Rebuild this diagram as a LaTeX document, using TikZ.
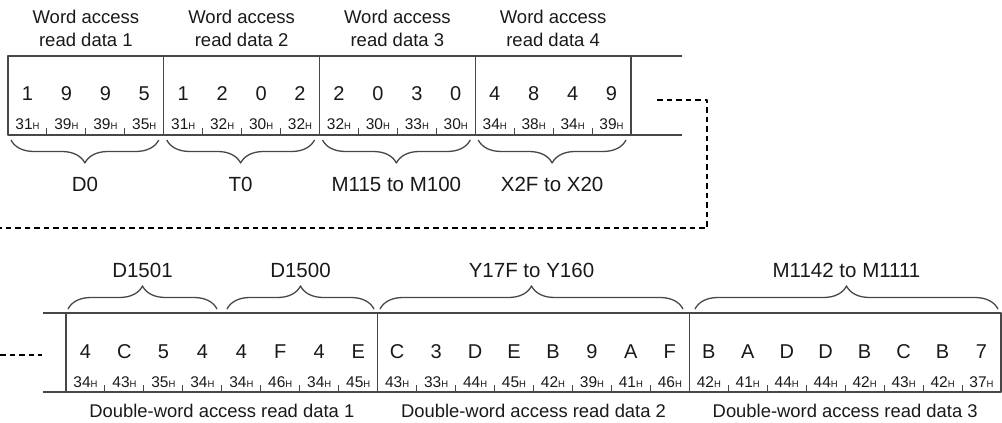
\documentclass[tikz,border=0pt]{standalone}
\usepackage{fontspec}
\setmainfont{Liberation Sans}
\usetikzlibrary{positioning,calc,decorations.pathreplacing}

\newcommand{\hx}[1]{#1{\fontsize{9.5}{9.5}\selectfont H}}

\begin{document}
\begin{tikzpicture}[x=1pt, y=-1pt, line join=round,
    every node/.style={inner sep=0pt, outer sep=0pt, text=black!90},
    cell/.style={draw=black!72, line width=1.3pt, minimum height=79pt, anchor=north west},
    frame/.style={draw=black!72, line width=1.3pt},
    head/.style={font=\fontsize{18.5}{23}\selectfont, align=center},
    lbl/.style={font=\fontsize{20.5}{24}\selectfont},
    caption/.style={font=\fontsize{18.4}{22}\selectfont},
    digit/.style={font=\fontsize{20}{24}\selectfont},
    code/.style={font=\fontsize{15.5}{17}\selectfont},
    brc/.style={frame, decorate, decoration={brace, amplitude=23pt}},
    link/.style={line width=2.6pt, dash pattern=on 5.5pt off 4pt}]
  \useasboundingbox (0,0) rectangle (1002,423);

  % word access read data
  \node[cell, minimum width=155.75pt] (w1) at (8,56) {};
  \node[cell, minimum width=155.75pt, right=0pt of w1] (w2) {};
  \node[cell, minimum width=155.75pt, right=0pt of w2] (w3) {};
  \node[cell, minimum width=155.75pt, right=0pt of w3] (w4) {};
  \draw[frame] (w4.north east) -- ++(51,0) (w4.south east) -- ++(51,0);

  \foreach \i in {1,...,4}
    \node[head, above=9.5pt of w\i] (h\i) {Word access\\read data \i};

  \foreach \d/\h [count=\n from 0] in {1/31,9/39,9/39,5/35,1/31,2/32,0/30,2/32,
      2/32,0/30,3/33,0/30,4/34,8/38,4/34,9/39} {
    \node[digit] (td\n) at (27.47+38.9375*\n, 94) {\d};
    \node[code] (tc\n) at (27.47+38.9375*\n, 124) {\hx{\h}};
  }
  \foreach \n in {1,2,3,5,6,7,9,10,11,13,14,15}
    \draw[frame, line width=1pt] ($(w1.south west)+(38.9375*\n,0)$) -- ++(0,-7);

  \foreach \i/\t in {1/D0,2/T0,3/M115 to M100,4/X2F to X20} {
    \draw[brc] ($(w\i.south east)+(-5,5)$) -- ($(w\i.south west)+(3,5)$);
    \node[lbl] (a\i) at ($(w\i.south)+(-1,49)$) {\t};
  }

  % double-word access read data
  \node[cell, minimum width=311.67pt] (r1) at (66,313) {};
  \node[cell, minimum width=311.67pt, right=0pt of r1] (r2) {};
  \node[cell, minimum width=311.67pt, right=0pt of r2] (r3) {};
  \draw[frame] (r1.north west) -- ++(-23,0) (r1.south west) -- ++(-23,0);

  \foreach \d/\h [count=\n from 0] in {4/34,C/43,5/35,4/34,4/34,F/46,4/34,E/45,
      C/43,3/33,D/44,E/45,B/42,9/39,A/41,F/46,
      B/42,A/41,D/44,D/44,B/42,C/43,B/42,7/37} {
    \node[digit] (bd\n) at (85.48+38.958*\n, 352) {\d};
    \node[code] (bc\n) at (85.48+38.958*\n, 382) {\hx{\h}};
  }
  \foreach \n in {1,...,7,9,10,...,15,17,18,...,23}
    \draw[frame, line width=1pt] ($(r1.south west)+(38.958*\n,0)$) -- ++(0,-7);

  \foreach \a/\b/\t [count=\i] in {68/217/D1501,227/374/D1500,
      380/683/Y17F to Y160,695/998/M1142 to M1111} {
    \draw[brc] (\a,309) -- (\b,309);
    \node[lbl] (b\i) at ({(\a+\b)/2}, 270.5) {\t};
  }

  \foreach \i in {1,2,3}
    \node[caption] (c\i) at ($(r\i.south)+(0,19)$) {Double-word access read data \i};

  % continuation
  \coordinate (wrapA) at (657,100);
  \coordinate (wrapB) at (0,228);
  \coordinate (wrapC) at (0,355);
  \coordinate (wrapD) at (42,355);
  \draw[link] (wrapA) -| (707,228) -- (wrapB);
  \draw[link] (wrapC) -- (wrapD);
\end{tikzpicture}
\end{document}
